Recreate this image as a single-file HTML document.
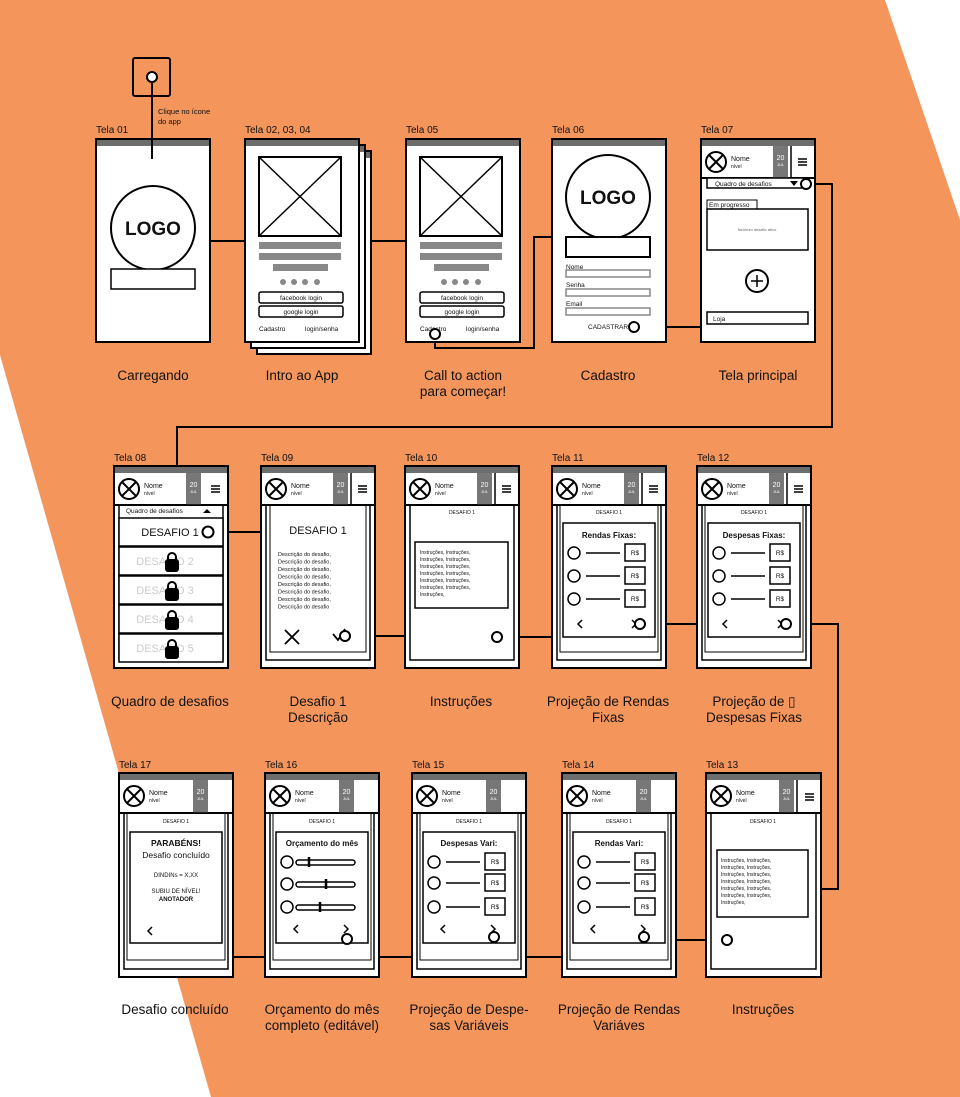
<!DOCTYPE html>
<html><head><meta charset="utf-8"><style>
html,body{margin:0;padding:0;background:#fff}
svg{display:block}
text{font-family:"Liberation Sans",sans-serif;fill:#111}
.c{text-anchor:middle}
.cap{font-size:13.5px;text-anchor:middle}
.tl{font-size:10px}
</style></head><body>
<svg width="960" height="1097" viewBox="0 0 960 1097" xmlns="http://www.w3.org/2000/svg">
<polygon points="0,0 885,0 960,220 960,1097 211,1097 0,355" fill="#F4955C"/>
<g stroke="#000" stroke-width="2" fill="none">
<!-- connectors -->
<line x1="152" y1="77" x2="152" y2="159"/>
<line x1="210" y1="241" x2="245" y2="241"/>
<line x1="372" y1="241" x2="406" y2="241"/>
<polyline points="435,334 435,348 534,348 534,237 552,237"/>
<line x1="634" y1="327" x2="701" y2="327"/>
<polyline points="806,184 832,184 832,427 177,427 177,466"/>
<line x1="208" y1="532" x2="261" y2="532"/>
<line x1="345" y1="636" x2="405" y2="636"/>
<line x1="497" y1="637" x2="552" y2="637"/>
<line x1="640" y1="624" x2="697" y2="624"/>
<polyline points="786,624 838,624 838,889 821,889"/>
<line x1="676" y1="940" x2="727" y2="940"/>
<polyline points="644,937 644,957 526,957"/>
<polyline points="494,937 494,957 379,957"/>
<polyline points="347,939 347,957 233,957"/>
</g>
<!-- app icon -->
<rect x="133" y="58" width="37" height="38" rx="2" fill="none" stroke="#000" stroke-width="2"/>
<circle cx="152" cy="77" r="5" fill="#fff" stroke="#000" stroke-width="2"/>
<text x="158" y="114" font-size="7.5">Clique no ícone</text>
<text x="158" y="124" font-size="7.5">do app</text>

<!-- Row 1 labels -->
<text class="tl" x="96" y="133">Tela 01</text>
<text class="tl" x="245" y="133">Tela 02, 03, 04</text>
<text class="tl" x="406" y="133">Tela 05</text>
<text class="tl" x="552" y="133">Tela 06</text>
<text class="tl" x="701" y="133">Tela 07</text>

<!-- Tela 01 -->
<g transform="translate(96,139)">
<rect x="0" y="0" width="114" height="203" fill="#fff" stroke="#000" stroke-width="2"/>
<rect x="1" y="1" width="112" height="6" fill="#6d6d6d"/>
<line x1="56" y1="0" x2="56" y2="20" stroke="#000" stroke-width="2"/>
<circle cx="57" cy="89" r="42" fill="#fff" stroke="#000" stroke-width="2"/>
<text x="57" y="96" class="c" font-size="19" font-weight="bold">LOGO</text>
<rect x="15" y="130" width="84" height="20" fill="#fff" stroke="#000" stroke-width="1.5"/>
</g>

<!-- Tela 02 stack -->
<rect x="257" y="151" width="114" height="203" fill="#fff" stroke="#000" stroke-width="2"/>
<rect x="258" y="152" width="112" height="6" fill="#6d6d6d"/>
<rect x="251" y="145" width="114" height="203" fill="#fff" stroke="#000" stroke-width="2"/>
<rect x="252" y="146" width="112" height="6" fill="#6d6d6d"/>
<g transform="translate(245,139)">
<rect x="0" y="0" width="114" height="203" fill="#fff" stroke="#000" stroke-width="2"/>
<rect x="1" y="1" width="112" height="6" fill="#6d6d6d"/>
<rect x="14" y="18" width="82" height="79" fill="#fff" stroke="#000" stroke-width="2"/>
<path d="M14 18L96 97M96 18L14 97" stroke="#000" stroke-width="1.5"/>
<rect x="14" y="103" width="82" height="7" fill="#888"/>
<rect x="14" y="114" width="82" height="7" fill="#888"/>
<rect x="28" y="125" width="55" height="7" fill="#888"/>
<g fill="#888"><circle cx="38" cy="143" r="3"/><circle cx="49" cy="143" r="3"/><circle cx="60" cy="143" r="3"/><circle cx="72" cy="143" r="3"/></g>
<rect x="14" y="153" width="84" height="11" rx="2" fill="#fff" stroke="#000" stroke-width="1.5"/>
<text x="56" y="161" class="c" font-size="6.5">facebook login</text>
<rect x="14" y="167" width="84" height="11" rx="2" fill="#fff" stroke="#000" stroke-width="1.5"/>
<text x="56" y="175" class="c" font-size="6.5">google login</text>
<text x="14" y="192" font-size="6.5">Cadastro</text>
<text x="60" y="192" font-size="6.5">login/senha</text>
</g>

<!-- Tela 05 -->
<g transform="translate(406,139)">
<rect x="0" y="0" width="114" height="203" fill="#fff" stroke="#000" stroke-width="2"/>
<rect x="1" y="1" width="112" height="6" fill="#6d6d6d"/>
<rect x="14" y="18" width="82" height="79" fill="#fff" stroke="#000" stroke-width="2"/>
<path d="M14 18L96 97M96 18L14 97" stroke="#000" stroke-width="1.5"/>
<rect x="14" y="103" width="82" height="7" fill="#888"/>
<rect x="14" y="114" width="82" height="7" fill="#888"/>
<rect x="28" y="125" width="55" height="7" fill="#888"/>
<g fill="#888"><circle cx="38" cy="143" r="3"/><circle cx="49" cy="143" r="3"/><circle cx="60" cy="143" r="3"/><circle cx="72" cy="143" r="3"/></g>
<rect x="14" y="153" width="84" height="11" rx="2" fill="#fff" stroke="#000" stroke-width="1.5"/>
<text x="56" y="161" class="c" font-size="6.5">facebook login</text>
<rect x="14" y="167" width="84" height="11" rx="2" fill="#fff" stroke="#000" stroke-width="1.5"/>
<text x="56" y="175" class="c" font-size="6.5">google login</text>
<text x="14" y="192" font-size="6.5">Cadastro</text>
<text x="60" y="192" font-size="6.5">login/senha</text>
<circle cx="29" cy="195" r="5" fill="#fff" stroke="#000" stroke-width="2"/>
</g>

<!-- Tela 06 -->
<g transform="translate(552,139)">
<rect x="0" y="0" width="114" height="203" fill="#fff" stroke="#000" stroke-width="2"/>
<rect x="1" y="1" width="112" height="6" fill="#6d6d6d"/>
<circle cx="56" cy="58" r="42" fill="#fff" stroke="#000" stroke-width="2"/>
<text x="56" y="65" class="c" font-size="19" font-weight="bold">LOGO</text>
<rect x="14" y="98" width="84" height="20" fill="#fff" stroke="#000" stroke-width="2"/>
<text x="14" y="130" font-size="6.5">Nome</text>
<rect x="14" y="131" width="84" height="7" fill="#fff" stroke="#888" stroke-width="1.5"/>
<text x="14" y="148" font-size="6.5">Senha</text>
<rect x="14" y="150" width="84" height="7" fill="#fff" stroke="#888" stroke-width="1.5"/>
<text x="14" y="167" font-size="6.5">Email</text>
<rect x="14" y="169" width="84" height="7" fill="#fff" stroke="#888" stroke-width="1.5"/>
<text x="36" y="190" font-size="6.5">CADASTRAR</text>
<circle cx="82" cy="188" r="5" fill="#fff" stroke="#000" stroke-width="2"/>
</g>

<!-- Tela 07 -->
<g transform="translate(701,139)">
<rect x="0" y="0" width="114" height="203" fill="#fff" stroke="#000" stroke-width="2"/>
<rect x="1" y="1" width="112" height="6" fill="#6d6d6d"/>
<line x1="0" y1="39" x2="114" y2="39" stroke="#000" stroke-width="2"/>
<circle cx="15" cy="23" r="10" fill="none" stroke="#000" stroke-width="2"/><path d="M8 16L22 30M22 16L8 30" stroke="#000" stroke-width="2"/>
<text x="30" y="22" font-size="7">Nome</text><text x="30" y="29" font-size="5">nível</text>
<rect x="72" y="7" width="15" height="32" fill="#777"/><text x="79.5" y="21" class="c" font-size="7" style="fill:#fff">20</text><text x="79.5" y="27" class="c" font-size="4" style="fill:#fff">JUL</text>
<line x1="90" y1="7" x2="90" y2="39" stroke="#000" stroke-width="1.5"/>
<path d="M97 20h9M97 23h9M97 26h9" stroke="#000" stroke-width="1.5"/>
<rect x="6" y="39" width="100" height="10" fill="#fff" stroke="#000" stroke-width="1.5"/>
<text x="14" y="47" font-size="6.5">Quadro de desafios</text>
<path d="M89 42h8l-4 5z" fill="#000"/>
<circle cx="105" cy="45" r="5" fill="#fff" stroke="#000" stroke-width="2"/>
<rect x="6" y="61" width="50" height="9" fill="#fff" stroke="#000" stroke-width="1"/>
<text x="8" y="68" font-size="6.5">Em progresso</text>
<rect x="6" y="70" width="101" height="41" fill="#fff" stroke="#000" stroke-width="1.5"/>
<text x="56" y="92" class="c" font-size="4" style="fill:#666">Nenhum desafio ativo</text>
<circle cx="56" cy="142" r="11" fill="none" stroke="#000" stroke-width="2"/>
<path d="M50 142h12M56 136v12" stroke="#000" stroke-width="1.5"/>
<rect x="6" y="173" width="101" height="12" fill="#fff" stroke="#000" stroke-width="1.5"/>
<text x="12" y="182" font-size="6.5">Loja</text>
</g>

<!-- Row1 captions -->
<text class="cap" x="153" y="380">Carregando</text>
<text class="cap" x="302" y="380">Intro ao App</text>
<text class="cap" x="463" y="380">Call to action</text>
<text class="cap" x="463" y="396">para começar!</text>
<text class="cap" x="608" y="380">Cadastro</text>
<text class="cap" x="758" y="380">Tela principal</text>

<!-- Row2 labels -->
<text class="tl" x="114" y="461">Tela 08</text>
<text class="tl" x="261" y="461">Tela 09</text>
<text class="tl" x="405" y="461">Tela 10</text>
<text class="tl" x="552" y="461">Tela 11</text>
<text class="tl" x="697" y="461">Tela 12</text>

<!-- Tela 08 -->
<g transform="translate(114,466)">
<rect x="0" y="0" width="114" height="202" fill="#fff" stroke="#000" stroke-width="2"/>
<rect x="1" y="1" width="112" height="6" fill="#6d6d6d"/>
<line x1="0" y1="39" x2="114" y2="39" stroke="#000" stroke-width="2"/>
<circle cx="15" cy="23" r="10" fill="none" stroke="#000" stroke-width="2"/><path d="M8 16L22 30M22 16L8 30" stroke="#000" stroke-width="2"/>
<text x="30" y="22" font-size="7">Nome</text><text x="30" y="29" font-size="5">nível</text>
<rect x="72" y="7" width="15" height="32" fill="#777"/><text x="79.5" y="21" class="c" font-size="7" style="fill:#fff">20</text><text x="79.5" y="27" class="c" font-size="4" style="fill:#fff">JUL</text>
<path d="M97 20h9M97 23h9M97 26h9" stroke="#000" stroke-width="1.5"/>
<rect x="5" y="39" width="104" height="155" fill="none" stroke="#000" stroke-width="1.5"/>
<text x="12" y="47" font-size="6.5">Quadro de desafios</text>
<path d="M89 47h8l-4-4z" fill="#000"/>
<g fill="#fff" stroke="#000" stroke-width="1.5">
<rect x="5" y="52" width="104" height="28"/><rect x="5" y="81" width="104" height="28"/><rect x="5" y="110" width="104" height="28"/><rect x="5" y="139" width="104" height="28"/><rect x="5" y="168" width="104" height="28"/>
</g>
<text x="56" y="70" class="c" font-size="11">DESAFIO 1</text>
<circle cx="94" cy="66" r="5.5" fill="#fff" stroke="#000" stroke-width="2"/>
<g style="fill:#ccc" font-size="11"><text x="51" y="99" class="c" style="fill:#ccc">DESAFIO 2</text><text x="51" y="128" class="c" style="fill:#ccc">DESAFIO 3</text><text x="51" y="157" class="c" style="fill:#ccc">DESAFIO 4</text><text x="51" y="186" class="c" style="fill:#ccc">DESAFIO 5</text></g>
<g fill="#000" stroke="#000" stroke-width="2">
<rect x="52" y="94" width="12" height="11" rx="2"/><path d="M54 94v-3a4 4 0 0 1 8 0v3" fill="none"/>
<rect x="52" y="123" width="12" height="11" rx="2"/><path d="M54 123v-3a4 4 0 0 1 8 0v3" fill="none"/>
<rect x="52" y="152" width="12" height="11" rx="2"/><path d="M54 152v-3a4 4 0 0 1 8 0v3" fill="none"/>
<rect x="52" y="181" width="12" height="11" rx="2"/><path d="M54 181v-3a4 4 0 0 1 8 0v3" fill="none"/>
</g>
</g>

<!-- Tela 09 -->
<g transform="translate(261,466)">
<rect x="0" y="0" width="114" height="202" fill="#fff" stroke="#000" stroke-width="2"/>
<rect x="1" y="1" width="112" height="6" fill="#6d6d6d"/>
<line x1="0" y1="39" x2="114" y2="39" stroke="#000" stroke-width="2"/>
<circle cx="15" cy="23" r="10" fill="none" stroke="#000" stroke-width="2"/><path d="M8 16L22 30M22 16L8 30" stroke="#000" stroke-width="2"/>
<text x="30" y="22" font-size="7">Nome</text><text x="30" y="29" font-size="5">nível</text>
<rect x="72" y="7" width="15" height="32" fill="#777"/><text x="79.5" y="21" class="c" font-size="7" style="fill:#fff">20</text><text x="79.5" y="27" class="c" font-size="4" style="fill:#fff">JUL</text>
<line x1="90" y1="7" x2="90" y2="39" stroke="#000" stroke-width="1.5"/>
<path d="M97 20h9M97 23h9M97 26h9" stroke="#000" stroke-width="1.5"/>
<rect x="5" y="39" width="104" height="155" fill="none" stroke="#000" stroke-width="1.5"/>
<rect x="9" y="39" width="96" height="147" fill="none" stroke="#000" stroke-width="1"/>
<text x="57" y="68" class="c" font-size="11">DESAFIO 1</text>
<g font-size="5.5">
<text x="17" y="90">Descrição do desafio,</text><text x="17" y="97.5">Descrição do desafio,</text><text x="17" y="105">Descrição do desafio,</text><text x="17" y="112.5">Descrição do desafio,</text><text x="17" y="120">Descrição do desafio,</text><text x="17" y="127.5">Descrição do desafio,</text><text x="17" y="135">Descrição do desafio,</text><text x="17" y="142.5">Descrição do desafio</text>
</g>
<path d="M24 164l14 14M38 164l-14 14" stroke="#000" stroke-width="1.8"/>
<path d="M72 168l5 6 7-11" fill="none" stroke="#000" stroke-width="1.8"/>
<circle cx="84" cy="170" r="5" fill="#fff" stroke="#000" stroke-width="2"/>
</g>

<!-- Tela 10 -->
<g transform="translate(405,466)">
<rect x="0" y="0" width="114" height="202" fill="#fff" stroke="#000" stroke-width="2"/>
<rect x="1" y="1" width="112" height="6" fill="#6d6d6d"/>
<line x1="0" y1="39" x2="114" y2="39" stroke="#000" stroke-width="2"/>
<circle cx="15" cy="23" r="10" fill="none" stroke="#000" stroke-width="2"/><path d="M8 16L22 30M22 16L8 30" stroke="#000" stroke-width="2"/>
<text x="30" y="22" font-size="7">Nome</text><text x="30" y="29" font-size="5">nível</text>
<rect x="72" y="7" width="15" height="32" fill="#777"/><text x="79.5" y="21" class="c" font-size="7" style="fill:#fff">20</text><text x="79.5" y="27" class="c" font-size="4" style="fill:#fff">JUL</text>
<line x1="90" y1="7" x2="90" y2="39" stroke="#000" stroke-width="1.5"/>
<path d="M97 20h9M97 23h9M97 26h9" stroke="#000" stroke-width="1.5"/>
<rect x="5" y="39" width="104" height="155" fill="none" stroke="#000" stroke-width="1.5"/>
<text x="57" y="48" class="c" font-size="5">DESAFIO 1</text>
<rect x="10" y="76" width="93" height="66" fill="#fff" stroke="#000" stroke-width="1.5"/>
<g font-size="5"><text x="15" y="88">Instruções, Instruções,</text><text x="15" y="95">Instruções, Instruções,</text><text x="15" y="102">Instruções, Instruções,</text><text x="15" y="109">Instruções, Instruções,</text><text x="15" y="116">Instruções, Instruções,</text><text x="15" y="123">Instruções, Instruções,</text><text x="15" y="130">Instruções,</text></g>
<circle cx="92" cy="171" r="5" fill="#fff" stroke="#000" stroke-width="2"/>
</g>

<!-- Tela 11 -->
<g transform="translate(552,466)">
<rect x="0" y="0" width="114" height="202" fill="#fff" stroke="#000" stroke-width="2"/>
<rect x="1" y="1" width="112" height="6" fill="#6d6d6d"/>
<line x1="0" y1="39" x2="114" y2="39" stroke="#000" stroke-width="2"/>
<circle cx="15" cy="23" r="10" fill="none" stroke="#000" stroke-width="2"/><path d="M8 16L22 30M22 16L8 30" stroke="#000" stroke-width="2"/>
<text x="30" y="22" font-size="7">Nome</text><text x="30" y="29" font-size="5">nível</text>
<rect x="72" y="7" width="15" height="32" fill="#777"/><text x="79.5" y="21" class="c" font-size="7" style="fill:#fff">20</text><text x="79.5" y="27" class="c" font-size="4" style="fill:#fff">JUL</text>
<line x1="90" y1="7" x2="90" y2="39" stroke="#000" stroke-width="1.5"/>
<path d="M97 20h9M97 23h9M97 26h9" stroke="#000" stroke-width="1.5"/>
<rect x="5" y="39" width="104" height="155" fill="none" stroke="#000" stroke-width="1.5"/>
<rect x="8" y="39" width="98" height="147" fill="none" stroke="#000" stroke-width="1"/>
<text x="57" y="48" class="c" font-size="5">DESAFIO 1</text>
<rect x="11" y="57" width="92" height="114" fill="#fff" stroke="#000" stroke-width="1.5"/>
<text x="57" y="72" class="c" font-size="8" font-weight="bold">Rendas Fixas:</text>
<g fill="#fff" stroke="#000" stroke-width="1.5">
<circle cx="22" cy="87" r="6"/><circle cx="22" cy="110" r="6"/><circle cx="22" cy="133" r="6"/>
<path d="M34 87h34M34 110h34M34 133h34"/>
<rect x="73" y="78" width="20" height="17"/><rect x="73" y="101" width="20" height="17"/><rect x="73" y="124" width="20" height="17"/>
</g>
<g font-size="6.5"><text x="83" y="89" class="c">R$</text><text x="83" y="112" class="c">R$</text><text x="83" y="135" class="c">R$</text></g>
<path d="M30 154l-4 4 4 4M80 154l4 4-4 4" fill="none" stroke="#000" stroke-width="1.5"/>
<circle cx="88" cy="158" r="5" fill="#fff" stroke="#000" stroke-width="2"/>
</g>

<!-- Tela 12 -->
<g transform="translate(697,466)">
<rect x="0" y="0" width="114" height="202" fill="#fff" stroke="#000" stroke-width="2"/>
<rect x="1" y="1" width="112" height="6" fill="#6d6d6d"/>
<line x1="0" y1="39" x2="114" y2="39" stroke="#000" stroke-width="2"/>
<circle cx="15" cy="23" r="10" fill="none" stroke="#000" stroke-width="2"/><path d="M8 16L22 30M22 16L8 30" stroke="#000" stroke-width="2"/>
<text x="30" y="22" font-size="7">Nome</text><text x="30" y="29" font-size="5">nível</text>
<rect x="72" y="7" width="15" height="32" fill="#777"/><text x="79.5" y="21" class="c" font-size="7" style="fill:#fff">20</text><text x="79.5" y="27" class="c" font-size="4" style="fill:#fff">JUL</text>
<line x1="90" y1="7" x2="90" y2="39" stroke="#000" stroke-width="1.5"/>
<path d="M97 20h9M97 23h9M97 26h9" stroke="#000" stroke-width="1.5"/>
<rect x="5" y="39" width="104" height="155" fill="none" stroke="#000" stroke-width="1.5"/>
<rect x="8" y="39" width="98" height="147" fill="none" stroke="#000" stroke-width="1"/>
<text x="57" y="48" class="c" font-size="5">DESAFIO 1</text>
<rect x="11" y="57" width="92" height="114" fill="#fff" stroke="#000" stroke-width="1.5"/>
<text x="57" y="72" class="c" font-size="8" font-weight="bold">Despesas Fixas:</text>
<g fill="#fff" stroke="#000" stroke-width="1.5">
<circle cx="22" cy="87" r="6"/><circle cx="22" cy="110" r="6"/><circle cx="22" cy="133" r="6"/>
<path d="M34 87h34M34 110h34M34 133h34"/>
<rect x="73" y="78" width="20" height="17"/><rect x="73" y="101" width="20" height="17"/><rect x="73" y="124" width="20" height="17"/>
</g>
<g font-size="6.5"><text x="83" y="89" class="c">R$</text><text x="83" y="112" class="c">R$</text><text x="83" y="135" class="c">R$</text></g>
<path d="M30 154l-4 4 4 4M81 154l4 4-4 4" fill="none" stroke="#000" stroke-width="1.5"/>
<circle cx="89" cy="158" r="5" fill="#fff" stroke="#000" stroke-width="2"/>
</g>

<!-- Row2 captions -->
<text class="cap" x="170" y="706">Quadro de desafios</text>
<text class="cap" x="318" y="706">Desafio 1</text>
<text class="cap" x="318" y="722">Descrição</text>
<text class="cap" x="461" y="706">Instruções</text>
<text class="cap" x="608" y="706">Projeção de Rendas</text>
<text class="cap" x="608" y="722">Fixas</text>
<text class="cap" x="754" y="706">Projeção de ▯</text>
<text class="cap" x="754" y="722">Despesas Fixas</text>

<!-- Row3 labels -->
<text class="tl" x="119" y="768">Tela 17</text>
<text class="tl" x="265" y="768">Tela 16</text>
<text class="tl" x="412" y="768">Tela 15</text>
<text class="tl" x="562" y="768">Tela 14</text>
<text class="tl" x="706" y="768">Tela 13</text>

<!-- Tela 17 -->
<g transform="translate(119,773)">
<rect x="0" y="0" width="114" height="204" fill="#fff" stroke="#000" stroke-width="2"/>
<rect x="1" y="1" width="112" height="6" fill="#6d6d6d"/>
<line x1="0" y1="40" x2="114" y2="40" stroke="#000" stroke-width="2"/>
<circle cx="15" cy="23" r="10" fill="none" stroke="#000" stroke-width="2"/><path d="M8 16L22 30M22 16L8 30" stroke="#000" stroke-width="2"/>
<text x="30" y="22" font-size="7">Nome</text><text x="30" y="29" font-size="5">nível</text>
<rect x="74" y="7" width="15" height="33" fill="#777"/><text x="81.5" y="21" class="c" font-size="7" style="fill:#fff">20</text><text x="81.5" y="27" class="c" font-size="4" style="fill:#fff">JUL</text>
<rect x="5" y="40" width="104" height="156" fill="none" stroke="#000" stroke-width="1.5"/>
<rect x="8" y="40" width="98" height="147" fill="none" stroke="#000" stroke-width="1"/>
<text x="57" y="50" class="c" font-size="5">DESAFIO 1</text>
<rect x="11" y="59" width="92" height="111" fill="#fff" stroke="#000" stroke-width="1.5"/>
<text x="57" y="73" class="c" font-size="8.5" font-weight="bold">PARABÉNS!</text>
<text x="57" y="85" class="c" font-size="8.5">Desafio concluído</text>
<text x="57" y="104" class="c" font-size="6">DINDINs = X,XX</text>
<text x="57" y="120" class="c" font-size="6">SUBIU DE NÍVEL!</text>
<text x="57" y="128" class="c" font-size="6" font-weight="bold">ANOTADOR</text>
<path d="M33 154l-4 4 4 4" fill="none" stroke="#000" stroke-width="1.5"/>
</g>

<!-- Tela 16 -->
<g transform="translate(265,773)">
<rect x="0" y="0" width="114" height="204" fill="#fff" stroke="#000" stroke-width="2"/>
<rect x="1" y="1" width="112" height="6" fill="#6d6d6d"/>
<line x1="0" y1="40" x2="114" y2="40" stroke="#000" stroke-width="2"/>
<circle cx="15" cy="23" r="10" fill="none" stroke="#000" stroke-width="2"/><path d="M8 16L22 30M22 16L8 30" stroke="#000" stroke-width="2"/>
<text x="30" y="22" font-size="7">Nome</text><text x="30" y="29" font-size="5">nível</text>
<rect x="74" y="7" width="15" height="33" fill="#777"/><text x="81.5" y="21" class="c" font-size="7" style="fill:#fff">20</text><text x="81.5" y="27" class="c" font-size="4" style="fill:#fff">JUL</text>
<rect x="5" y="40" width="104" height="156" fill="none" stroke="#000" stroke-width="1.5"/>
<rect x="8" y="40" width="98" height="147" fill="none" stroke="#000" stroke-width="1"/>
<text x="57" y="50" class="c" font-size="5">DESAFIO 1</text>
<rect x="11" y="59" width="92" height="111" fill="#fff" stroke="#000" stroke-width="1.5"/>
<text x="57" y="73" class="c" font-size="8" font-weight="bold">Orçamento do mês</text>
<g fill="#fff" stroke="#000" stroke-width="1.5">
<circle cx="22" cy="89" r="6"/><circle cx="22" cy="111" r="6"/><circle cx="22" cy="134" r="6"/>
<rect x="31" y="87" width="59" height="5" rx="2.5"/><rect x="31" y="109" width="59" height="5" rx="2.5"/><rect x="31" y="132" width="59" height="5" rx="2.5"/>
</g>
<path d="M44 84v10M61 106v10M55 129v10" stroke="#000" stroke-width="2.5"/>
<path d="M33 152l-4 4 4 4M79 152l4 4-4 4" fill="none" stroke="#000" stroke-width="1.5"/>
<circle cx="82" cy="166" r="5" fill="#fff" stroke="#000" stroke-width="2"/>
</g>

<!-- Tela 15 -->
<g transform="translate(412,773)">
<rect x="0" y="0" width="114" height="204" fill="#fff" stroke="#000" stroke-width="2"/>
<rect x="1" y="1" width="112" height="6" fill="#6d6d6d"/>
<line x1="0" y1="40" x2="114" y2="40" stroke="#000" stroke-width="2"/>
<circle cx="15" cy="23" r="10" fill="none" stroke="#000" stroke-width="2"/><path d="M8 16L22 30M22 16L8 30" stroke="#000" stroke-width="2"/>
<text x="30" y="22" font-size="7">Nome</text><text x="30" y="29" font-size="5">nível</text>
<rect x="74" y="7" width="15" height="33" fill="#777"/><text x="81.5" y="21" class="c" font-size="7" style="fill:#fff">20</text><text x="81.5" y="27" class="c" font-size="4" style="fill:#fff">JUL</text>
<rect x="5" y="40" width="104" height="156" fill="none" stroke="#000" stroke-width="1.5"/>
<rect x="8" y="40" width="98" height="147" fill="none" stroke="#000" stroke-width="1"/>
<text x="57" y="50" class="c" font-size="5">DESAFIO 1</text>
<rect x="11" y="59" width="92" height="111" fill="#fff" stroke="#000" stroke-width="1.5"/>
<text x="57" y="73" class="c" font-size="8" font-weight="bold">Despesas Vari:</text>
<g fill="#fff" stroke="#000" stroke-width="1.5">
<circle cx="22" cy="89" r="6"/><circle cx="22" cy="110" r="6"/><circle cx="22" cy="134" r="6"/>
<path d="M34 89h34M34 110h34M34 134h34"/>
<rect x="73" y="80" width="20" height="17"/><rect x="73" y="101" width="20" height="17"/><rect x="73" y="125" width="20" height="17"/>
</g>
<g font-size="6.5"><text x="83" y="91" class="c">R$</text><text x="83" y="112" class="c">R$</text><text x="83" y="136" class="c">R$</text></g>
<path d="M33 152l-4 4 4 4M79 152l4 4-4 4" fill="none" stroke="#000" stroke-width="1.5"/>
<circle cx="82" cy="164" r="5" fill="#fff" stroke="#000" stroke-width="2"/>
</g>

<!-- Tela 14 -->
<g transform="translate(562,773)">
<rect x="0" y="0" width="114" height="204" fill="#fff" stroke="#000" stroke-width="2"/>
<rect x="1" y="1" width="112" height="6" fill="#6d6d6d"/>
<line x1="0" y1="40" x2="114" y2="40" stroke="#000" stroke-width="2"/>
<circle cx="15" cy="23" r="10" fill="none" stroke="#000" stroke-width="2"/><path d="M8 16L22 30M22 16L8 30" stroke="#000" stroke-width="2"/>
<text x="30" y="22" font-size="7">Nome</text><text x="30" y="29" font-size="5">nível</text>
<rect x="74" y="7" width="15" height="33" fill="#777"/><text x="81.5" y="21" class="c" font-size="7" style="fill:#fff">20</text><text x="81.5" y="27" class="c" font-size="4" style="fill:#fff">JUL</text>
<rect x="5" y="40" width="104" height="156" fill="none" stroke="#000" stroke-width="1.5"/>
<rect x="8" y="40" width="98" height="147" fill="none" stroke="#000" stroke-width="1"/>
<text x="57" y="50" class="c" font-size="5">DESAFIO 1</text>
<rect x="11" y="59" width="92" height="111" fill="#fff" stroke="#000" stroke-width="1.5"/>
<text x="57" y="73" class="c" font-size="8" font-weight="bold">Rendas Vari:</text>
<g fill="#fff" stroke="#000" stroke-width="1.5">
<circle cx="22" cy="89" r="6"/><circle cx="22" cy="110" r="6"/><circle cx="22" cy="134" r="6"/>
<path d="M34 89h34M34 110h34M34 134h34"/>
<rect x="73" y="80" width="20" height="17"/><rect x="73" y="101" width="20" height="17"/><rect x="73" y="125" width="20" height="17"/>
</g>
<g font-size="6.5"><text x="83" y="91" class="c">R$</text><text x="83" y="112" class="c">R$</text><text x="83" y="136" class="c">R$</text></g>
<path d="M33 152l-4 4 4 4M79 152l4 4-4 4" fill="none" stroke="#000" stroke-width="1.5"/>
<circle cx="82" cy="164" r="5" fill="#fff" stroke="#000" stroke-width="2"/>
</g>

<!-- Tela 13 -->
<g transform="translate(706,773)">
<rect x="0" y="0" width="115" height="204" fill="#fff" stroke="#000" stroke-width="2"/>
<rect x="1" y="1" width="113" height="6" fill="#6d6d6d"/>
<line x1="0" y1="40" x2="115" y2="40" stroke="#000" stroke-width="2"/>
<circle cx="15" cy="23" r="10" fill="none" stroke="#000" stroke-width="2"/><path d="M8 16L22 30M22 16L8 30" stroke="#000" stroke-width="2"/>
<text x="30" y="22" font-size="7">Nome</text><text x="30" y="29" font-size="5">nível</text>
<rect x="73" y="7" width="15" height="33" fill="#777"/><text x="80.5" y="21" class="c" font-size="7" style="fill:#fff">20</text><text x="80.5" y="27" class="c" font-size="4" style="fill:#fff">JUL</text>
<line x1="91" y1="7" x2="91" y2="40" stroke="#000" stroke-width="1.5"/>
<path d="M99 21h9M99 24h9M99 27h9" stroke="#000" stroke-width="1.5"/>
<rect x="5" y="40" width="105" height="156" fill="none" stroke="#000" stroke-width="1.5"/>
<text x="57" y="50" class="c" font-size="5">DESAFIO 1</text>
<rect x="11" y="77" width="91" height="67" fill="#fff" stroke="#000" stroke-width="1.5"/>
<g font-size="5"><text x="15" y="89">Instruções, Instruções,</text><text x="15" y="96">Instruções, Instruções,</text><text x="15" y="103">Instruções, Instruções,</text><text x="15" y="110">Instruções, Instruções,</text><text x="15" y="117">Instruções, Instruções,</text><text x="15" y="124">Instruções, Instruções,</text><text x="15" y="131">Instruções,</text></g>
<circle cx="21" cy="167" r="5" fill="#fff" stroke="#000" stroke-width="2"/>
</g>

<!-- Row3 captions -->
<text class="cap" x="175" y="1014">Desafio concluído</text>
<text class="cap" x="322" y="1014">Orçamento do mês</text>
<text class="cap" x="322" y="1030">completo (editável)</text>
<text class="cap" x="469" y="1014">Projeção de Despe-</text>
<text class="cap" x="469" y="1030">sas Variáveis</text>
<text class="cap" x="619" y="1014">Projeção de Rendas</text>
<text class="cap" x="619" y="1030">Variáves</text>
<text class="cap" x="763" y="1014">Instruções</text>
</svg>
</body></html>
